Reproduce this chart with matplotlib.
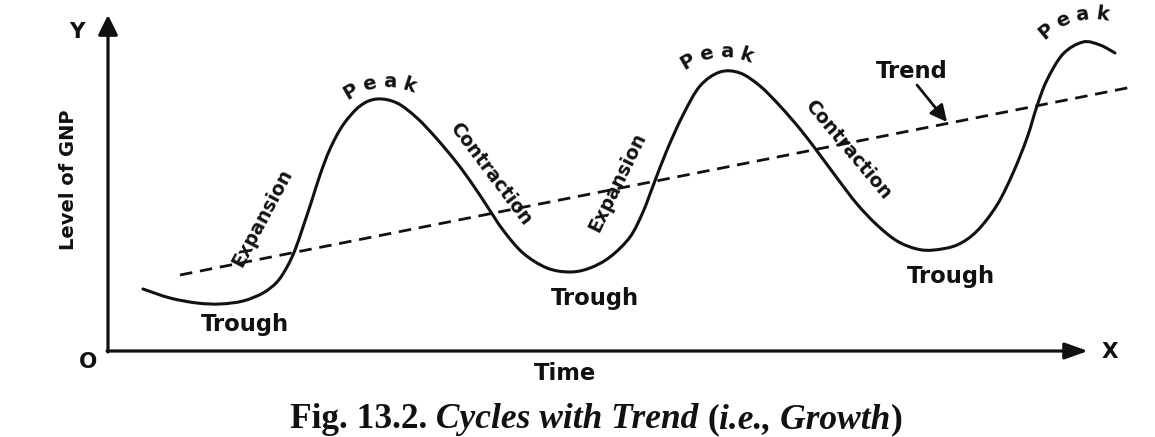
import numpy as np
import matplotlib.pyplot as plt
from matplotlib.path import Path
from matplotlib.patches import PathPatch

# business cycle curve (time, level of GNP)
time = [3.5, 6.2, 8.9, 11.2, 13.5, 15.5, 16.9, 17.9, 18.7, 19.5, 20.4, 21.2,
        22.2, 23.5, 25.2, 26.9, 28.9, 30.9, 32.9, 34.9, 36.5, 37.9, 39.5, 41.5,
        43.9, 46.2, 48.2, 50.2, 52.2, 53.5, 54.5, 55.9, 57.5, 59.2, 61.2, 63.2,
        65.2, 67.2, 69.2, 70.9, 72.9, 74.9, 76.9, 78.9, 80.9, 82.6, 84.9, 86.9,
        88.9, 90.5, 91.9, 92.9, 93.9, 95.5, 97.5, 99.2, 100.7]
gnp = [6.2, 5.3, 4.8, 4.7, 5.0, 5.8, 6.9, 8.4, 10.1, 12.4, 15.1, 17.6,
       20.2, 22.6, 24.5, 25.2, 24.8, 23.3, 21.2, 18.8, 16.6, 14.5, 12.1, 9.8,
       8.3, 7.9, 8.3, 9.4, 11.4, 13.9, 16.5, 20.1, 23.6, 26.5, 27.9, 27.8,
       26.5, 24.5, 22.2, 20.0, 17.3, 14.7, 12.6, 11.0, 10.2, 10.1, 10.6, 12.0,
       14.6, 17.8, 21.3, 24.5, 27.1, 29.7, 30.9, 30.6, 29.8]

# trend line end points
trend_time = [7.2, 102.4]
trend_gnp = [7.6, 26.4]

# labels
trough_labels = ["Trough", "Trough", "Trough"]
trough_x = [13.7, 48.7, 84.3]
trough_y = [2.6, 5.3, 7.4]

phase_labels = ["Expansion", "Contraction", "Expansion", "Contraction"]
phase_x = [15.4, 38.3, 50.9, 74.0]
phase_y = [13.3, 17.7, 16.9, 20.1]
phase_rot = [62, -53, 64, -50]

# "Peak" written along a small arc above each peak
peak_cx = [27.9, 61.6, 98.4]
peak_cy = [19.7, 22.7, 26.5]
peak_start = [30, 30, 40]
peak_end = [-18, -18, -8]

caption_parts = ["Fig. 13.2.", " Cycles with Trend ", "(", "i.e., Growth", ")"]
caption_italic = [False, True, False, True, False]

fig = plt.figure(figsize=(11.55, 4.37), dpi=100)
ax = fig.add_axes([108 / 1155, 86 / 437, 1050 / 1155, 340 / 437])
ax.set_xlim(0, 105)
ax.set_ylim(0, 34)
ax.axis('off')

ink = '#111111'
lab = dict(family='DejaVu Sans', fontweight='bold', color=ink)

# axes with arrows
ax.annotate('', xy=(0, 33.6), xytext=(0, -0.1),
            arrowprops=dict(arrowstyle='-|>,head_length=0.6,head_width=0.3',
                            mutation_scale=20, lw=2.3, color=ink,
                            shrinkA=0, shrinkB=0))
ax.annotate('', xy=(98, 0), xytext=(-0.1, 0),
            arrowprops=dict(arrowstyle='-|>,head_length=0.7,head_width=0.25',
                            mutation_scale=20, lw=2.3, color=ink,
                            shrinkA=0, shrinkB=0))

# cycle drawn as a smooth bezier path through the read points
pts = np.column_stack([time, gnp])
ext = np.vstack([pts[0], pts, pts[-1]])
verts = [pts[0]]
for i in range(len(pts) - 1):
    p0, p1, p2, p3 = ext[i], ext[i + 1], ext[i + 2], ext[i + 3]
    verts += [p1 + (p2 - p0) / 6, p2 - (p3 - p1) / 6, p2]
codes = [Path.MOVETO] + [Path.CURVE4] * (3 * (len(pts) - 1))
ax.add_patch(PathPatch(Path(verts, codes), fill=False, lw=2.2, ec=ink,
                       capstyle='round', joinstyle='round'))

ax.plot(trend_time, trend_gnp, color=ink, lw=2.0, dashes=(4.5, 2.8))

# trend pointer
ax.text(80.4, 27.9, 'Trend', ha='center', va='center', fontsize=16.3, **lab)
ax.annotate('', xy=(83.9, 22.9), xytext=(80.9, 26.6),
            arrowprops=dict(arrowstyle='-|>,head_length=0.5,head_width=0.25',
                            mutation_scale=20, lw=2.0, color=ink,
                            shrinkA=0, shrinkB=0))

for t, x, y in zip(trough_labels, trough_x, trough_y):
    ax.text(x, y, t, ha='center', va='center', fontsize=16.3, **lab)

for t, x, y, r in zip(phase_labels, phase_x, phase_y, phase_rot):
    ax.text(x, y, t, ha='center', va='center', rotation=r,
            rotation_mode='anchor', fontsize=13.5, **lab)

word = 'Peak'
radius = 7.2
for cx, cy, a0, a1 in zip(peak_cx, peak_cy, peak_start, peak_end):
    for i, ch in enumerate(word):
        th = a0 + (a1 - a0) * i / (len(word) - 1)
        ax.text(cx - radius * np.sin(np.radians(th)),
                cy + radius * np.cos(np.radians(th)), ch,
                ha='center', va='center', rotation=th, rotation_mode='anchor',
                fontsize=14, **lab)

# axis letters and titles
ax.text(-3.1, 31.9, 'Y', ha='center', va='center', fontsize=15.5, **lab)
ax.text(-2.0, -1.1, 'O', ha='center', va='center', fontsize=15.5, **lab)
ax.text(100.2, -0.1, 'X', ha='center', va='center', fontsize=15.5, **lab)
ax.text(-4.0, 17.1, 'Level of GNP', ha='center', va='center', rotation=90,
        fontsize=14, **lab)
ax.text(45.7, -2.2, 'Time', ha='center', va='center', fontsize=16.3, **lab)

# caption, pieces chained one after another
prev = fig.text(290 / 1155, 9 / 437, caption_parts[0], ha='left',
                va='baseline', family='Liberation Serif', fontweight='bold',
                fontsize=25.5, color=ink)
for part, it in zip(caption_parts[1:], caption_italic[1:]):
    prev = ax.annotate(part, xy=(1, 0), xycoords=prev, ha='left', va='bottom',
                       family='Liberation Serif', fontweight='bold',
                       style='italic' if it else 'normal', fontsize=25.5,
                       color=ink, annotation_clip=False)

fig.savefig('out.png', dpi=100, facecolor='white')
